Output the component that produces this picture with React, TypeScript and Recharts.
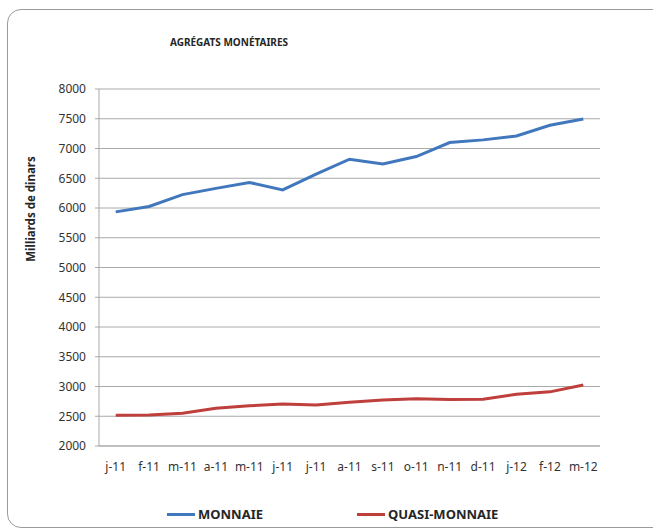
import React from 'react';
import { LineChart, Line, XAxis, YAxis, CartesianGrid, Legend } from 'recharts';

const months = ['j-11', 'f-11', 'm-11', 'a-11', 'm-11', 'j-11', 'j-11', 'a-11', 's-11', 'o-11', 'n-11', 'd-11', 'j-12', 'f-12', 'm-12'];
const monnaie = [5935, 6025, 6225, 6330, 6430, 6305, 6570, 6820, 6740, 6865, 7100, 7145, 7210, 7390, 7495];
const quasiMonnaie = [2515, 2520, 2550, 2635, 2675, 2705, 2690, 2735, 2775, 2795, 2780, 2785, 2870, 2910, 3025];
const yTicks = [2000, 2500, 3000, 3500, 4000, 4500, 5000, 5500, 6000, 6500, 7000, 7500, 8000];

// points sit in the middle of each category slot, Excel style
const data = months.map((m, i) => ({ pos: i + 0.5, month: m, monnaie: monnaie[i], quasi: quasiMonnaie[i] }));
const boundaryTicks = months.map((_, i) => i).concat(months.length);
const centerTicks = months.map((_, i) => i + 0.5);

const gridColor = '#a9a9a9';
const textColor = '#333';

const renderLegend = (props: any) => (
  <div style={{ display: 'flex', alignItems: 'center', height: 20, paddingLeft: 167 }}>
    {(props.payload || []).map((e: any, i: number) => (
      <div key={i} style={{ display: 'flex', alignItems: 'center', marginRight: 94 }}>
        <div style={{ width: 28, height: 3, background: e.color }} />
        <span style={{ marginLeft: 3, fontWeight: 700, fontSize: 13, color: '#262626' }}>{e.value}</span>
      </div>
    ))}
  </div>
);

export default function App() {
  return (
    <div style={{ position: 'absolute', left: 0, top: 0, width: 653, height: 528, overflow: 'hidden', background: '#fff', fontFamily: '"Noto Sans", sans-serif' }}>
      <div style={{ position: 'absolute', left: 7, top: 9, width: 664, height: 519, border: '1px solid #9a9a9a', borderRadius: 14, boxSizing: 'border-box' }} />
      <div style={{ position: 'absolute', left: 0, top: 0 }}>
        <LineChart width={653} height={528} data={data} margin={{ top: 89, right: 53, bottom: 4, left: 0 }}>
          <CartesianGrid vertical={false} stroke={gridColor} />
          <XAxis
            type="number"
            dataKey="pos"
            domain={[0, months.length]}
            allowDataOverflow
            ticks={boundaryTicks}
            interval={0}
            tick={false}
            tickSize={5}
            height={5}
            stroke={gridColor}
          />
          <XAxis
            xAxisId="b"
            type="number"
            dataKey="pos"
            domain={[0, months.length]}
            allowDataOverflow
            ticks={centerTicks}
            interval={0}
            tickFormatter={(v: number) => months[Math.round(v - 0.5)]}
            axisLine={false}
            tickLine={false}
            tickMargin={5}
            height={53}
            tick={{ fill: textColor, fontSize: 12 }}
          />
          <YAxis
            domain={[2000, 8000]}
            ticks={yTicks}
            interval={0}
            width={99}
            tickSize={4}
            tickMargin={9}
            stroke={gridColor}
            tick={{ fill: textColor, fontSize: 12 }}
          />
          <Legend verticalAlign="bottom" content={renderLegend} />
          <Line type="linear" dataKey="monnaie" name="MONNAIE" stroke="#4177bd" strokeWidth={3} dot={false} isAnimationActive={false} />
          <Line type="linear" dataKey="quasi" name="QUASI-MONNAIE" stroke="#be3f3c" strokeWidth={3} dot={false} isAnimationActive={false} />
        </LineChart>
      </div>
      <div style={{ position: 'absolute', left: 0, width: 458, top: 35, textAlign: 'center', fontSize: 10, fontWeight: 700, color: '#262626' }}>
        AGRÉGATS MONÉTAIRES
      </div>
      <div style={{ position: 'absolute', left: 30, top: 209, transform: 'translate(-50%, -50%) rotate(-90deg)', whiteSpace: 'nowrap', fontSize: 11.5, fontWeight: 700, color: '#262626' }}>
        Milliards de dinars
      </div>
    </div>
  );
}
